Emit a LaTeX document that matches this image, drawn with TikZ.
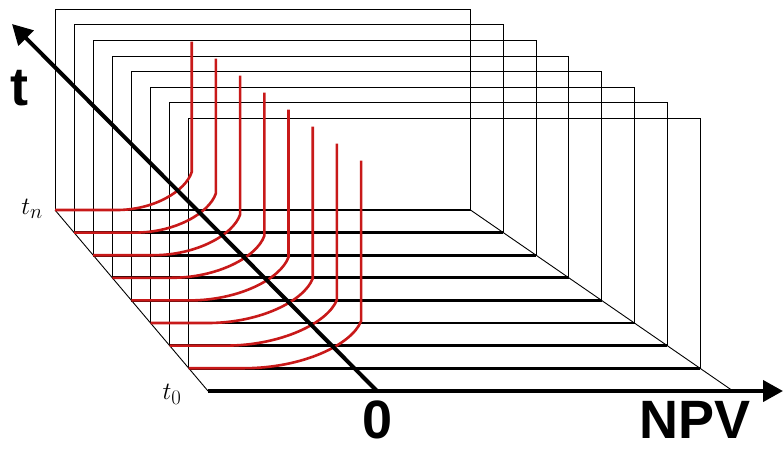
\documentclass[tikz,border=0pt]{standalone}
\usepackage{fontspec}
\newfontfamily\rotulo{Liberation Sans}
\usetikzlibrary{arrows.meta}
\begin{document}
\begin{tikzpicture}[x=1pt,y=-1pt,
	plano/.style={line width=0.9pt},
	piso/.style={line width=2.7pt},
	curva/.style={line width=2.6pt, color={rgb,255:red,200;green,25;blue,25}},
	eje/.style={line width=4pt, -{Triangle[length=20pt,width=21pt]}},
	grande/.style={font=\rotulo\bfseries\fontsize{54}{54}\selectfont, inner sep=0pt, anchor=base},
	indice/.style={font=\fontsize{28}{28}\selectfont, inner sep=0pt}]
	\useasboundingbox (0,0) rectangle (783,448);
	% Planos verticales y pisos
	\foreach \i in {0,...,7}{
		\pgfmathsetmacro{\xl}{55+19.1*\i}
		\pgfmathsetmacro{\xr}{470.5+32.8*\i}
		\pgfmathsetmacro{\yt}{9.3+15.6*\i}
		\pgfmathsetmacro{\yb}{210+22.6*\i}
		\draw[plano] (\xl,\yb) -- (\xl,\yt) -- (\xr,\yt) -- (\xr,\yb);
		\draw[piso] (\xl,\yb) -- (\xr,\yb);
	}
	% Bordes laterales
	\draw[plano] (55,210) -- (208,391);
	\draw[plano] (470.5,210) -- (733,391);
	% Curvas rojas
	\foreach \i in {0,...,7}{
		\pgfmathsetmacro{\xl}{55+19.1*\i}
		\pgfmathsetmacro{\yb}{210+22.6*\i}
		\pgfmathsetmacro{\xc}{191.7+24.2*\i}
		\pgfmathsetmacro{\ys}{41.7+17*\i}
		\pgfmathsetmacro{\h}{38+1.3*\i}
		\pgfmathsetmacro{\w}{75+6*\i}
		\draw[curva] (\xl,\yb) -- (\xc-\w,\yb) .. controls (\xc-0.5*\w,\yb) and (\xc-0.08*\w,\yb-0.5*\h) .. (\xc,\yb-\h) -- (\xc,\ys);
	}
	% Ejes
	\coordinate (t0) at (208,391);
	\coordinate (cero) at (377,391);
	\coordinate (fin) at (783,391);
	\coordinate (arriba) at (12,24);
	\draw[eje] (t0) -- (fin);
	\draw[eje] (cero) -- (arriba);
	% Rotulos
	\node[grande] (npv) at (695,438) {NPV};
	\node[grande] (origen) at (378,438) {0};
	\node[grande] (tiempo) at (19,105) {t};
	\node[indice] (tn) at (32,209) {$t_n$};
	\node[indice] (tcero) at (172,394) {$t_0$};
\end{tikzpicture}
\end{document}
